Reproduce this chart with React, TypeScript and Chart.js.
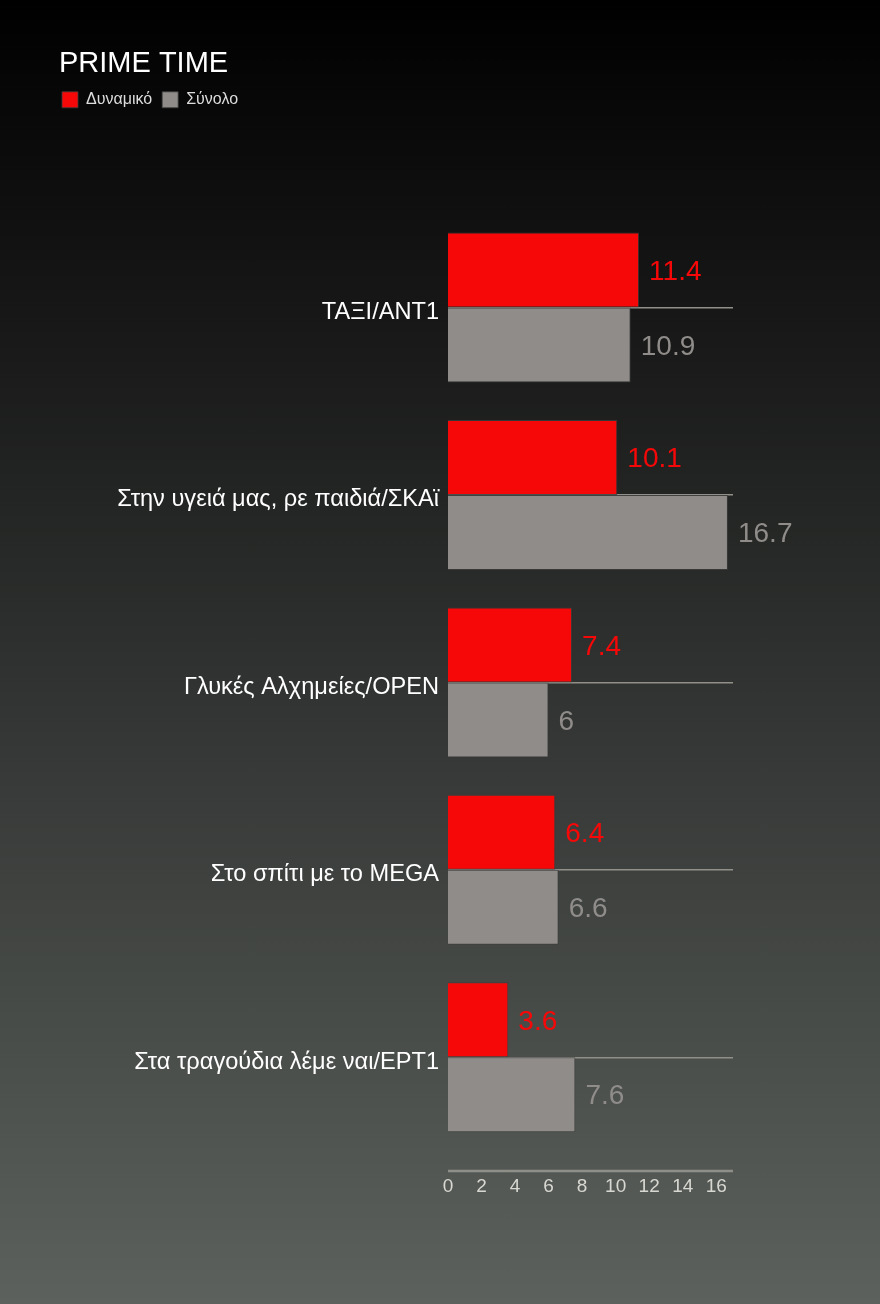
import { useEffect, useRef } from "react"
import { Chart, registerables } from "chart.js"

Chart.register(...registerables)

const shows = [
  "ΤΑΞΙ/ΑΝΤ1",
  "Στην υγειά μας, ρε παιδιά/ΣΚΑϊ",
  "Γλυκές Αλχημείες/OPEN",
  "Στο σπίτι με το MEGA",
  "Στα τραγούδια λέμε ναι/ΕΡΤ1",
]
const dynamikoValues = [11.4, 10.1, 7.4, 6.4, 3.6]
const synoloValues = [10.9, 16.7, 6, 6.6, 7.6]

const RED = "#f70808"
const GRAY = "#8f8c8a"
const FONT = "'Liberation Sans', Arial, sans-serif"

// value labels at the end of each bar
const valueLabels = {
  id: "valueLabels",
  afterDatasetsDraw(chart: Chart) {
    const ctx = chart.ctx
    ctx.save()
    ctx.font = `28px ${FONT}`
    ctx.textBaseline = "middle"
    ctx.textAlign = "left"
    chart.data.datasets.forEach((ds, i) => {
      const meta = chart.getDatasetMeta(i)
      ctx.fillStyle = i === 0 ? RED : GRAY
      meta.data.forEach((bar: any, j) => {
        ctx.fillText(String(ds.data[j]), bar.x + 10, bar.y + 2)
      })
    })
    ctx.restore()
  },
}

// axis line sits a little below the plot area, and title nudged right
const axisLine = {
  id: "axisLine",
  afterLayout(chart: any) {
    if (chart.titleBlock) {
      chart.titleBlock.left += 7
      chart.titleBlock.right += 7
    }
  },
  beforeDatasetsDraw(chart: Chart) {
    const { ctx, chartArea } = chart
    const y = chartArea.bottom + 20
    ctx.save()
    ctx.strokeStyle = "#8e8f89"
    ctx.lineWidth = 2.5
    ctx.beginPath()
    ctx.moveTo(chartArea.left, y)
    ctx.lineTo(chartArea.right, y)
    ctx.stroke()
    ctx.restore()
  },
}

export default function App() {
  const chartRef = useRef<HTMLCanvasElement>(null)
  const chartInstance = useRef<Chart | null>(null)

  useEffect(() => {
    if (!chartRef.current) return
    if (chartInstance.current) chartInstance.current.destroy()

    const ctx = chartRef.current.getContext("2d")
    if (!ctx) return

    chartInstance.current = new Chart(ctx, {
      type: "bar",
      data: {
        labels: shows,
        datasets: [
          {
            label: "Δυναμικό",
            data: dynamikoValues,
            backgroundColor: RED,
            borderColor: "rgba(60,60,60,0.8)",
            borderWidth: 1,
          },
          {
            label: "Σύνολο",
            data: synoloValues,
            backgroundColor: GRAY,
            borderColor: "rgba(60,60,60,0.8)",
            borderWidth: 1,
          },
        ],
      },
      options: {
        indexAxis: "y",
        responsive: true,
        maintainAspectRatio: false,
        animation: false,
        layout: { padding: { left: 52, right: 147, top: 0, bottom: 93 } },
        datasets: { bar: { categoryPercentage: 0.8, barPercentage: 1 } },
        scales: {
          x: {
            min: 0,
            max: 17,
            grid: { display: false },
            border: { display: false },
            ticks: {
              stepSize: 2,
              includeBounds: false,
              color: "#d8d8d2",
              font: { family: FONT, size: 19 },
              padding: 16,
            },
            afterFit: (s: any) => {
              s.height = 60
            },
          },
          xTop: {
            type: "linear",
            position: "top",
            grid: { display: false },
            border: { display: false },
            ticks: { display: false },
            afterFit: (s: any) => {
              s.height = 96
            },
          },
          y: {
            grid: {
              offset: false,
              color: "#909089",
              lineWidth: 1.5,
              drawTicks: false,
            },
            border: { display: false },
            ticks: {
              color: "#ffffff",
              font: { family: FONT, size: 23.6 },
              padding: 9,
              labelOffset: 5,
            },
            afterFit: (s: any) => {
              s.width = 396
            },
          },
        },
        plugins: {
          title: {
            display: true,
            text: "PRIME TIME",
            align: "start",
            color: "#ffffff",
            font: { family: FONT, size: 29, weight: "normal" },
            padding: { top: 47, bottom: 0 },
          },
          legend: {
            display: true,
            position: "top",
            align: "start",
            labels: {
              color: "#dddddd",
              font: { family: FONT, size: 16 },
              boxWidth: 16,
              boxHeight: 16,
              padding: 10,
            },
          },
          tooltip: { enabled: false },
        },
      },
      plugins: [valueLabels, axisLine],
    })

    return () => {
      if (chartInstance.current) {
        chartInstance.current.destroy()
        chartInstance.current = null
      }
    }
  }, [])

  return (
    <div
      style={{
        position: "absolute",
        top: 0,
        left: 0,
        width: 880,
        height: 1304,
        background: "linear-gradient(to bottom, #000000 0%, #5c615d 100%)",
      }}
    >
      <canvas ref={chartRef} />
    </div>
  )
}
